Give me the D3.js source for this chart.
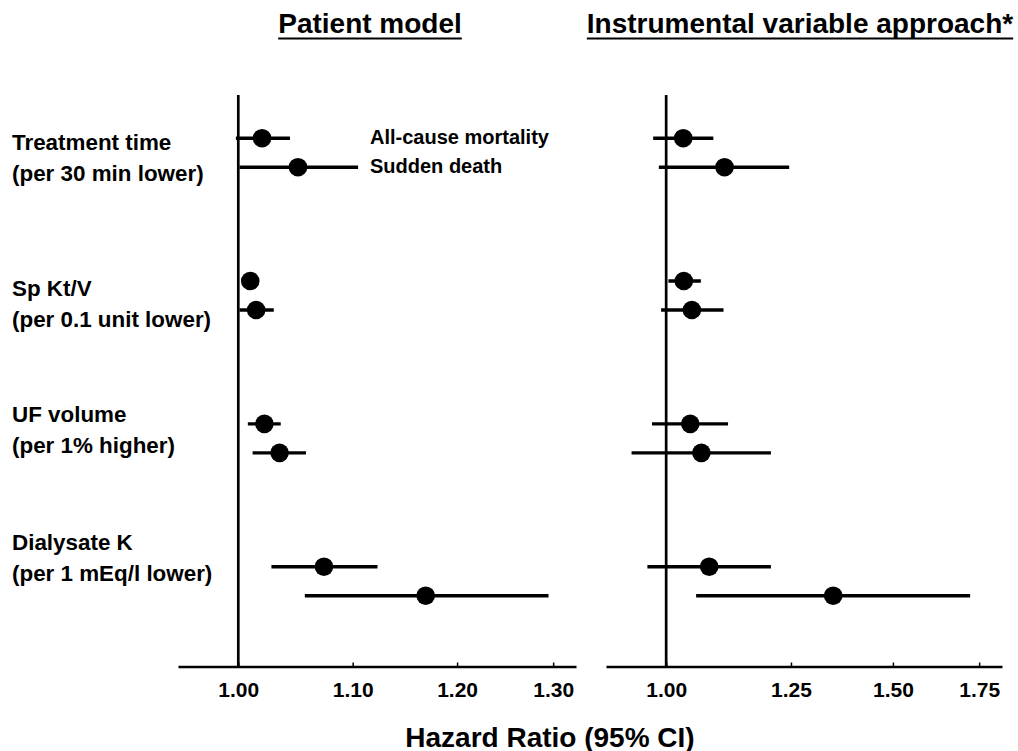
<!DOCTYPE html>
<html>
<head>
<meta charset="utf-8">
<script src="https://cdn.jsdelivr.net/npm/d3@7"></script>
<style>
  html, body { margin: 0; padding: 0; background: #fff; }
  svg { display: block; }
  text { font-family: "Liberation Sans", Arial, sans-serif; font-weight: bold; fill: #000; }
</style>
</head>
<body>
<svg id="chart" width="1018" height="751"></svg>
<script>
// ---------- data ----------
const categories = ["Treatment time", "Sp Kt/V", "UF volume", "Dialysate K"];
const categorySub = ["(per 30 min lower)", "(per 0.1 unit lower)", "(per 1% higher)", "(per 1 mEq/l lower)"];
const seriesNames = ["All-cause mortality", "Sudden death"];
const panelTitles = ["Patient model", "Instrumental variable approach*"];
const axisTitle = "Hazard Ratio (95% CI)";

// Patient model: HR, lower, upper
const patientAllHR = [1.020, 1.010, 1.022, 1.074];
const patientAllLo = [0.998, 1.006, 1.008, 1.028];
const patientAllHi = [1.044, 1.014, 1.036, 1.123];
const patientSdHR = [1.051, 1.015, 1.035, 1.169];
const patientSdLo = [1.001, 1.001, 1.012, 1.057];
const patientSdHi = [1.105, 1.030, 1.058, 1.295];

// Instrumental variable approach: HR, lower, upper
const ivAllHR = [1.031, 1.032, 1.044, 1.080];
const ivAllLo = [0.977, 1.004, 0.975, 0.967];
const ivAllHi = [1.088, 1.064, 1.117, 1.206];
const ivSdHR = [1.110, 1.047, 1.065, 1.348];
const ivSdLo = [0.987, 0.991, 0.940, 1.055];
const ivSdHi = [1.246, 1.108, 1.206, 1.722];

const leftTicks = [1.00, 1.10, 1.20, 1.30];
const rightTicks = [1.00, 1.25, 1.50, 1.75];

// ---------- layout ----------
const svg = d3.select("#chart");
const axisY = 666.5;
const refTop = 95;
const labelShift = [-3, 0, -16, -31];

const yGroup = d3.scalePoint().domain(categories).range([152.7, 581.2]);
const ySeries = d3.scalePoint().domain(seriesNames).range([-14.5, 14.5]);

const panels = [
  {
    title: panelTitles[0], titleX: 370,
    x: d3.scaleLog().domain([0.951, 1.325]).range([178, 576]),
    ticks: leftTicks, fmt: d3.format(".2f"),
    series: [
      {name: seriesNames[0], hr: patientAllHR, lo: patientAllLo, hi: patientAllHi},
      {name: seriesNames[1], hr: patientSdHR, lo: patientSdLo, hi: patientSdHi}
    ]
  },
  {
    title: panelTitles[1], titleX: 800,
    x: d3.scaleLog().domain([0.898, 1.823]).range([606, 1002]),
    ticks: rightTicks, fmt: d3.format(".2f"),
    series: [
      {name: seriesNames[0], hr: ivAllHR, lo: ivAllLo, hi: ivAllHi},
      {name: seriesNames[1], hr: ivSdHR, lo: ivSdLo, hi: ivSdHi}
    ]
  }
];

panels.forEach(p => {
  const g = svg.append("g");

  // title with underline
  const t = g.append("text")
    .attr("x", p.titleX).attr("y", 33)
    .attr("text-anchor", "middle")
    .style("font-size", "28px")
    .text(p.title);
  const w = t.node().getComputedTextLength();
  g.append("line")
    .attr("x1", p.titleX - w / 2).attr("x2", p.titleX + w / 2)
    .attr("y1", 38.5).attr("y2", 38.5)
    .attr("stroke", "#000").attr("stroke-width", 2);

  // x axis
  const axis = d3.axisBottom(p.x)
    .tickValues(p.ticks)
    .tickFormat(p.fmt)
    .tickSizeOuter(0)
    .tickSizeInner(-4)
    .tickPadding(0);
  const ax = g.append("g").attr("transform", `translate(0,${axisY})`).call(axis);
  ax.select(".domain").attr("stroke", "#000").attr("stroke-width", 2.5);
  ax.selectAll(".tick line").attr("stroke", "#000").attr("stroke-width", 1.5);
  ax.selectAll(".tick text")
    .attr("y", 30.5).attr("dy", null)
    .attr("fill", "#000")
    .style("font-family", '"Liberation Sans", Arial, sans-serif')
    .style("font-weight", "bold")
    .style("font-size", "21px");

  // reference line at HR = 1
  g.append("line")
    .attr("x1", p.x(1)).attr("x2", p.x(1))
    .attr("y1", refTop).attr("y2", axisY)
    .attr("stroke", "#000").attr("stroke-width", 2.7);

  // CIs and points
  p.series.forEach(s => {
    const rows = categories.map((c, i) => ({c, hr: s.hr[i], lo: s.lo[i], hi: s.hi[i]}));
    const yy = d => yGroup(d.c) + ySeries(s.name);
    g.selectAll(null).data(rows).enter().append("line")
      .attr("x1", d => p.x(d.lo)).attr("x2", d => p.x(d.hi))
      .attr("y1", yy).attr("y2", yy)
      .attr("stroke", "#000").attr("stroke-width", 3.4);
    g.selectAll(null).data(rows).enter().append("circle")
      .attr("cx", d => p.x(d.hr)).attr("cy", yy)
      .attr("r", 9.3).attr("fill", "#000");
  });
});

// category labels
const lab = svg.append("g");
categories.forEach((c, i) => {
  const y0 = yGroup(c) + labelShift[i];
  lab.append("text").attr("x", 12).attr("y", y0).style("font-size", "22.4px").text(c);
  lab.append("text").attr("x", 12).attr("y", y0 + 31).style("font-size", "22.4px").text(categorySub[i]);
});

// series legend labels (patient panel)
seriesNames.forEach((s, i) => {
  svg.append("text")
    .attr("x", 370).attr("y", yGroup(categories[0]) + ySeries(s) + 6)
    .style("font-size", "20px")
    .text(s);
});

// axis title
svg.append("text")
  .attr("x", 550).attr("y", 746.5)
  .attr("text-anchor", "middle")
  .style("font-size", "28px")
  .text(axisTitle);
</script>
</body>
</html>
